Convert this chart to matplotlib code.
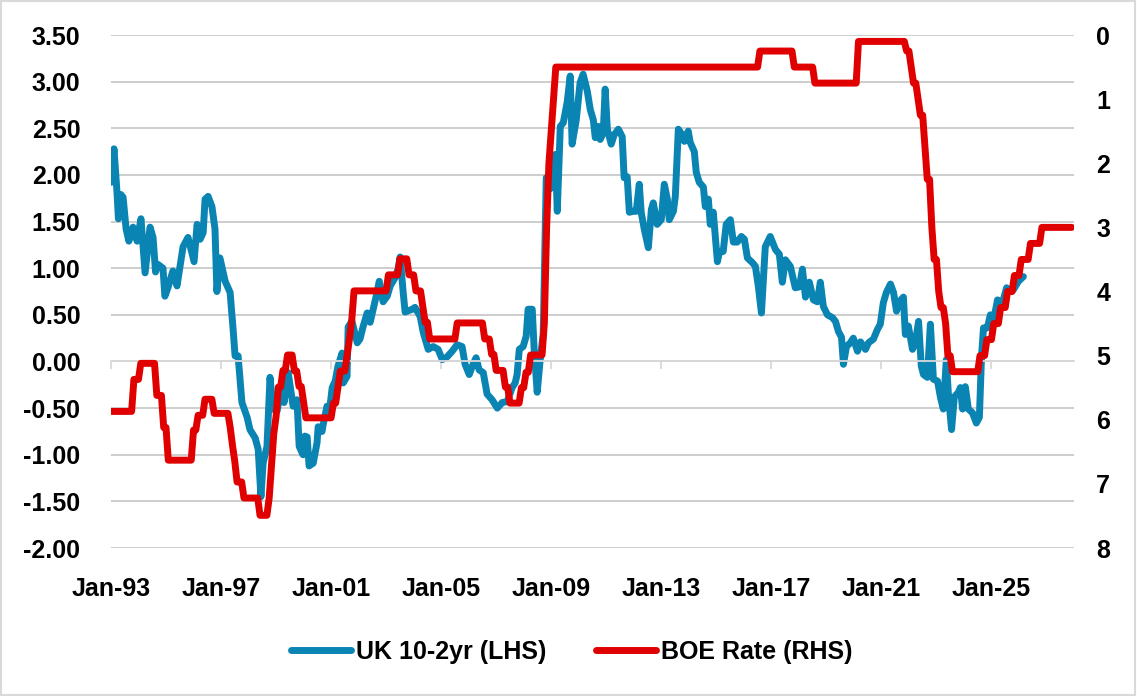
import matplotlib.pyplot as plt
from matplotlib.patches import Rectangle

plt.rcParams['font.family'] = ['Liberation Sans', 'DejaVu Sans']
plt.rcParams['font.weight'] = 'bold'

# UK 10-2yr spread (LHS), decimal years
spread_t = [
    1993.00, 1993.11, 1993.22, 1993.27, 1993.36, 1993.44, 1993.55, 1993.65, 1993.80, 1993.95,
    1994.09, 1994.24, 1994.42, 1994.53, 1994.62, 1994.71, 1994.89, 1994.96, 1995.07, 1995.25,
    1995.40, 1995.62, 1995.80, 1996.02, 1996.13, 1996.24, 1996.35, 1996.42, 1996.53, 1996.67,
    1996.78, 1996.85, 1996.96, 1997.15, 1997.33, 1997.44, 1997.51, 1997.62, 1997.76, 1997.95,
    1998.05, 1998.24, 1998.35, 1998.45, 1998.53, 1998.67, 1998.78, 1998.89, 1999.04, 1999.22,
    1999.29, 1999.44, 1999.62, 1999.76, 1999.84, 1999.98, 2000.05, 2000.13, 2000.20, 2000.35,
    2000.49, 2000.53, 2000.67, 2000.71, 2000.85, 2000.96, 2001.04, 2001.15, 2001.25, 2001.40,
    2001.44, 2001.58, 2001.62, 2001.76, 2001.95, 2002.05, 2002.16, 2002.31, 2002.42, 2002.53,
    2002.67, 2002.75, 2002.89, 2003.04, 2003.15, 2003.33, 2003.44, 2003.51, 2003.62, 2003.69,
    2003.95, 2004.05, 2004.24, 2004.35, 2004.53, 2004.71, 2004.89, 2005.04, 2005.22, 2005.40,
    2005.58, 2005.76, 2005.87, 2006.02, 2006.16, 2006.27, 2006.38, 2006.53, 2006.67, 2006.85,
    2007.04, 2007.22, 2007.40, 2007.58, 2007.69, 2007.76, 2007.84, 2007.98, 2008.09, 2008.16,
    2008.31, 2008.38, 2008.49, 2008.60, 2008.71, 2008.82, 2008.96, 2009.15, 2009.22, 2009.33,
    2009.44, 2009.58, 2009.69, 2009.76, 2009.91, 2010.05, 2010.16, 2010.31, 2010.42, 2010.53,
    2010.60, 2010.71, 2010.78, 2010.89, 2010.96, 2011.04, 2011.18, 2011.29, 2011.44, 2011.58,
    2011.65, 2011.76, 2011.84, 2011.98, 2012.09, 2012.20, 2012.27, 2012.38, 2012.53, 2012.64,
    2012.71, 2012.85, 2013.00, 2013.11, 2013.22, 2013.29, 2013.44, 2013.51, 2013.62, 2013.76,
    2013.84, 2013.98, 2014.05, 2014.20, 2014.27, 2014.38, 2014.53, 2014.60, 2014.71, 2014.78,
    2014.89, 2015.04, 2015.11, 2015.25, 2015.36, 2015.51, 2015.62, 2015.76, 2015.91, 2016.02,
    2016.13, 2016.31, 2016.42, 2016.53, 2016.64, 2016.78, 2016.96, 2017.15, 2017.29, 2017.40,
    2017.51, 2017.69, 2017.87, 2018.02, 2018.13, 2018.24, 2018.38, 2018.53, 2018.67, 2018.78,
    2018.89, 2019.04, 2019.22, 2019.33, 2019.44, 2019.55, 2019.62, 2019.73, 2019.87, 2019.98,
    2020.13, 2020.24, 2020.42, 2020.53, 2020.71, 2020.85, 2020.96, 2021.07, 2021.18, 2021.33,
    2021.44, 2021.55, 2021.65, 2021.80, 2021.87, 2021.98, 2022.13, 2022.24, 2022.35, 2022.45,
    2022.53, 2022.67, 2022.78, 2022.89, 2023.04, 2023.15, 2023.25, 2023.36, 2023.44, 2023.55,
    2023.65, 2023.80, 2023.87, 2023.95, 2024.05, 2024.16, 2024.31, 2024.45, 2024.56, 2024.64,
    2024.71, 2024.85, 2024.96, 2025.07, 2025.22, 2025.40, 2025.55, 2025.69, 2025.80, 2025.98,
    2026.16,
]
spread = [
    1.92, 2.28, 1.81, 1.53, 1.79, 1.76, 1.42, 1.29, 1.44, 1.29,
    1.53, 0.95, 1.44, 1.33, 0.96, 1.04, 1.00, 0.70, 0.79, 0.97,
    0.81, 1.23, 1.33, 1.07, 1.47, 1.31, 1.38, 1.74, 1.77, 1.66,
    1.42, 0.75, 1.11, 0.86, 0.74, 0.34, 0.06, 0.06, -0.44, -0.60,
    -0.73, -0.82, -0.94, -1.45, -1.09, -0.91, -0.17, -0.51, -0.53, -0.23,
    -0.44, -0.12, -0.48, -0.41, -0.91, -1.00, -0.80, -0.81, -1.12, -1.09,
    -0.87, -0.70, -0.75, -0.68, -0.48, -0.48, -0.28, -0.21, -0.05, 0.09,
    -0.23, -0.16, 0.37, 0.43, 0.20, 0.24, 0.37, 0.52, 0.42, 0.56,
    0.74, 0.86, 0.64, 0.70, 0.81, 0.90, 1.00, 1.12, 0.74, 0.53,
    0.56, 0.58, 0.48, 0.31, 0.13, 0.16, 0.13, 0.02, 0.05, 0.11,
    0.18, 0.16, -0.03, -0.14, -0.03, 0.04, -0.09, -0.12, -0.35, -0.41,
    -0.50, -0.44, -0.43, -0.28, -0.23, -0.14, 0.13, 0.16, 0.27, 0.56,
    0.56, 0.13, -0.33, 0.02, 0.30, 1.97, 1.85, 2.22, 1.61, 2.52,
    2.56, 2.78, 3.06, 2.33, 2.59, 2.99, 3.08, 2.90, 2.70, 2.59,
    2.40, 2.52, 2.38, 2.45, 2.92, 2.49, 2.33, 2.43, 2.49, 2.41,
    1.97, 1.98, 1.60, 1.61, 1.61, 1.90, 1.60, 1.42, 1.22, 1.63,
    1.70, 1.47, 1.52, 1.90, 1.74, 1.52, 1.61, 1.77, 2.49, 2.43,
    2.36, 2.47, 2.35, 2.25, 2.03, 1.92, 1.87, 1.66, 1.74, 1.47,
    1.60, 1.07, 1.17, 1.18, 1.47, 1.52, 1.28, 1.28, 1.34, 1.31,
    1.11, 1.06, 1.02, 0.80, 0.52, 1.23, 1.34, 1.20, 1.15, 0.85,
    1.09, 1.02, 0.79, 0.80, 0.99, 0.69, 0.85, 0.66, 0.64, 0.85,
    0.59, 0.50, 0.47, 0.43, 0.32, 0.26, -0.03, 0.16, 0.20, 0.25,
    0.11, 0.21, 0.13, 0.20, 0.24, 0.34, 0.40, 0.63, 0.74, 0.83,
    0.74, 0.54, 0.64, 0.69, 0.29, 0.38, 0.13, 0.21, 0.43, -0.05,
    -0.14, -0.17, 0.40, -0.19, -0.21, -0.39, -0.51, 0.02, -0.38, -0.73,
    -0.38, -0.33, -0.28, -0.51, -0.27, -0.51, -0.55, -0.66, -0.60, 0.06,
    0.36, 0.36, 0.50, 0.43, 0.66, 0.63, 0.79, 0.75, 0.77, 0.86,
    0.91,
]

# BOE rate (RHS): month of each change and the new level
boe_month = [
    '1993-01', '1993-11', '1994-02', '1994-09', '1994-12', '1995-02', '1996-01', '1996-03',
    '1996-06', '1996-10', '1997-05', '1997-06', '1997-07', '1997-08', '1997-11', '1998-06',
    '1998-10', '1998-11', '1998-12', '1999-01', '1999-02', '1999-04', '1999-06', '1999-09',
    '1999-11', '2000-01', '2000-02', '2001-02', '2001-04', '2001-05', '2001-08', '2001-09',
    '2001-10', '2001-11', '2003-02', '2003-07', '2003-11', '2004-02', '2004-05', '2004-06',
    '2004-08', '2005-08', '2006-08', '2006-11', '2007-01', '2007-05', '2007-07', '2007-12',
    '2008-02', '2008-04', '2008-10', '2008-11', '2008-12', '2009-01', '2009-02', '2009-03',
    '2016-08', '2017-11', '2018-08', '2020-03', '2021-12', '2022-02', '2022-03', '2022-05',
    '2022-06', '2022-08', '2022-09', '2022-11', '2022-12', '2023-02', '2023-03', '2023-05',
    '2023-06', '2023-08', '2024-08', '2024-11', '2025-02', '2025-05', '2025-08', '2025-11',
    '2026-02', '2026-06', '2026-11', '2027-12',
]
boe_rate = [
    5.87, 5.37, 5.12, 5.62, 6.12, 6.63, 6.16, 5.93,
    5.68, 5.90, 6.12, 6.40, 6.65, 6.97, 7.22, 7.49,
    7.22, 6.72, 6.22, 5.95, 5.49, 5.23, 4.99, 5.24,
    5.48, 5.72, 5.97, 5.74, 5.49, 5.24, 4.99, 4.74,
    4.45, 3.99, 3.74, 3.49, 3.74, 3.99, 4.24, 4.48,
    4.74, 4.49, 4.74, 4.98, 5.23, 5.49, 5.74, 5.50,
    5.26, 4.99, 4.50, 3.00, 2.00, 1.50, 1.00, 0.50,
    0.25, 0.50, 0.75, 0.10, 0.25, 0.50, 0.75, 1.00,
    1.25, 1.75, 2.25, 3.00, 3.50, 4.00, 4.25, 4.50,
    5.00, 5.25, 5.00, 4.75, 4.50, 4.25, 4.00, 3.75,
    3.50, 3.25, 3.00, 3.00,
]

tick_years = [1993, 1997, 2001, 2005, 2009, 2013, 2017, 2021, 2025]
tick_labels = ['Jan-93', 'Jan-97', 'Jan-01', 'Jan-05', 'Jan-09', 'Jan-13', 'Jan-17', 'Jan-21', 'Jan-25']
left_ticks = [-2.0, -1.5, -1.0, -0.5, 0.0, 0.5, 1.0, 1.5, 2.0, 2.5, 3.0, 3.5]
right_ticks = [0, 1, 2, 3, 4, 5, 6, 7, 8]

boe_t = [int(m[:4]) + (int(m[5:]) - 1) / 12 for m in boe_month]

# monthly series joined by straight lines: each change moves over one month
line_t, line_v = [boe_t[0]], [boe_rate[0]]
for t, v in zip(boe_t[1:], boe_rate[1:]):
    line_t += [t - 1 / 12, t]
    line_v += [line_v[-1], v]

blue = '#0A84B2'
red = '#E00000'
grid_col = '#C9C9C9'
fs = 18

fig = plt.figure(figsize=(11.37, 6.96), dpi=100)
ax = fig.add_axes([0.0976, 0.2126, 0.8470, 0.7371])
ax2 = ax.twinx()

ax.plot(spread_t, spread, color=blue, lw=5.0, solid_joinstyle='round',
        solid_capstyle='round', label='UK 10-2yr (LHS)')
ax2.plot(line_t, line_v, color=red, lw=5.0, solid_joinstyle='round',
         solid_capstyle='round', label='BOE Rate (RHS)')

ax.set_xlim(1993, 2028)
ax.set_ylim(-2, 3.5)
ax2.set_ylim(8, 0)

# horizontal gridlines
ax.set_yticks(left_ticks)
ax.set_yticklabels([f'{v:.2f}' for v in left_ticks])
ax.grid(axis='y', color=grid_col, lw=1.3)
ax.set_axisbelow(True)
ax.tick_params(axis='y', length=0, pad=22, labelsize=fs)

ax2.set_yticks(right_ticks)
ax2.tick_params(axis='y', length=0, pad=16, labelsize=fs)

for s in ['top', 'left', 'right']:
    ax.spines[s].set_visible(False)
for s in ax2.spines.values():
    s.set_visible(False)

# category axis crossing at zero, labels at the bottom
ax.spines['bottom'].set_position(('data', 0))
ax.spines['bottom'].set_color('#D9D9D9')
ax.spines['bottom'].set_linewidth(1.3)
ax.set_xticks(tick_years)
ax.tick_params(axis='x', direction='out', length=6, width=1.3, color='#D9D9D9',
               labelbottom=False)

sec = ax.secondary_xaxis(0)
sec.set_xticks(tick_years)
sec.set_xticklabels(tick_labels)
sec.tick_params(length=0, pad=21, labelsize=fs)
sec.spines['bottom'].set_visible(False)

h1, l1 = ax.get_legend_handles_labels()
h2, l2 = ax2.get_legend_handles_labels()
fig.legend(h1 + h2, l1 + l2, loc='center', bbox_to_anchor=(0.503, 0.063), ncol=2,
           frameon=False, fontsize=fs, handlelength=2.4, handletextpad=0.2,
           columnspacing=2.0)

fig.patches.append(Rectangle((0.001, 0.001), 0.997, 0.997, transform=fig.transFigure,
                             fill=False, edgecolor='#D9D9D9', lw=1.5))

fig.savefig('out.png', dpi=100)
